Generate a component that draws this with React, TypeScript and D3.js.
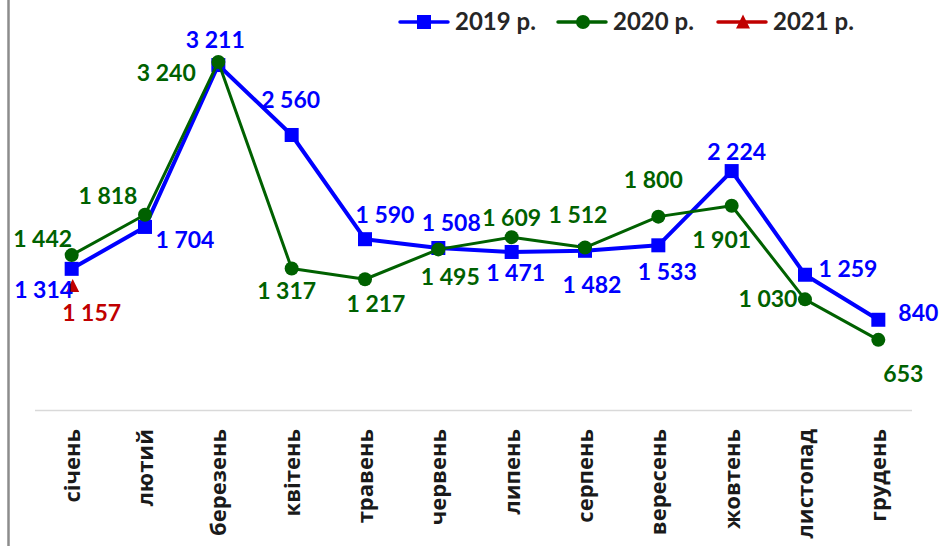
import React from "react";
import * as d3 from "d3";

const months = ["січень", "лютий", "березень", "квітень", "травень", "червень", "липень", "серпень", "вересень", "жовтень", "листопад", "грудень"];
const values2019 = [1314, 1704, 3211, 2560, 1590, 1508, 1471, 1482, 1533, 2224, 1259, 840];
const values2020 = [1442, 1818, 3240, 1317, 1217, 1495, 1609, 1512, 1800, 1901, 1030, 653];
const values2021 = [1157];
const seriesNames = ["2019 р.", "2020 р.", "2021 р."];

// label offsets (presentation only)
const off2019: [number, number][] = [[-28, 21], [40, 13], [-3, -25], [-1, -35], [20, -24], [13, -25], [4, 21], [7, 34], [9, 27], [5, -19], [43, -6], [40, -7]];
const off2020: [number, number][] = [[-29, -16], [-37, -19], [-52, 11], [-5, 22], [11, 25], [12, 28], [0, -19], [-7, -33], [-5, -37], [-10, 34], [-37, 0], [25, 34]];
const off2021: [number, number][] = [[20, 27]];

const W = 943, H = 546;
const BLUE = "#0000FF", GREEN = "#006100", RED = "#C00000";
const fmt = (v: number) => d3.format(",")(v).replace(/,/g, " ");

export default function App() {
  const x = d3.scaleBand<string>().domain(months).range([35, 915]).padding(0);
  const y = d3.scaleLinear().domain([0, 3500]).range([410, 34]);
  const cx = (i: number) => (x(months[i]) as number) + x.bandwidth() / 2;
  const line = d3.line<number>().x((_, i) => cx(i)).y((d) => y(d));
  const labelFont = "Lato, 'Open Sans', sans-serif";

  const labels = (vals: number[], offs: [number, number][], color: string) =>
    vals.map((v, i) => (
      <text key={i} x={cx(i) + offs[i][0]} y={y(v) + offs[i][1]} textAnchor="middle" dy="0.35em"
        fill={color} fontFamily={labelFont} fontWeight={700} fontSize={23}>{fmt(v)}</text>
    ));

  const tri = (px: number, py: number, s: number) => `M${px},${py - s * 0.6}L${px + s / 2},${py + s * 0.4}L${px - s / 2},${py + s * 0.4}Z`;

  const legend = [
    { lx: 400, color: BLUE, name: seriesNames[0], kind: "sq" },
    { lx: 558, color: GREEN, name: seriesNames[1], kind: "ci" },
    { lx: 718, color: RED, name: seriesNames[2], kind: "tr" },
  ];

  return (
    <div style={{ position: "fixed", left: 0, top: 0, width: W, height: H, background: "#fff" }}>
      <svg width={W} height={H} style={{ display: "block" }}>
        <rect x={0} y={0} width={W} height={H} fill="#fff" />
        <line x1={8.5} x2={8.5} y1={0} y2={H} stroke="#8c8c8c" strokeWidth={2.5} />
        <line x1={35} x2={912} y1={410.5} y2={410.5} stroke="#d9d9d9" strokeWidth={1.5} />
        {months.map((m, i) => (
          <text key={m} transform={`translate(${cx(i)},429) rotate(-90)`} textAnchor="end" dy="0.36em"
            fontFamily="'Open Sans', sans-serif" fontWeight={700} fontSize={22} fill="#1a1a1a">{m}</text>
        ))}
        <path d={line(values2019) || ""} fill="none" stroke={BLUE} strokeWidth={4} strokeLinejoin="round" />
        {values2019.map((v, i) => (
          <rect key={i} x={cx(i) - 7} y={y(v) - 7} width={14} height={14} fill={BLUE} />
        ))}
        <path d={line(values2020) || ""} fill="none" stroke={GREEN} strokeWidth={3} strokeLinejoin="round" />
        {values2020.map((v, i) => (
          <circle key={i} cx={cx(i)} cy={y(v)} r={7} fill={GREEN} />
        ))}
        {values2021.map((v, i) => (
          <path key={i} d={tri(cx(i) + 1, y(v) + 1, 13)} fill={RED} />
        ))}
        {labels(values2019, off2019, BLUE)}
        {labels(values2020, off2020, GREEN)}
        {labels(values2021, off2021, RED)}
        {legend.map((l) => (
          <g key={l.name}>
            <line x1={l.lx} x2={l.lx + 48} y1={22} y2={22} stroke={l.color} strokeWidth={3.5} strokeLinecap="round" />
            {l.kind === "sq" && <rect x={l.lx + 17} y={15} width={14} height={14} fill={l.color} />}
            {l.kind === "ci" && <circle cx={l.lx + 25} cy={22} r={7} fill={l.color} />}
            {l.kind === "tr" && <path d={tri(l.lx + 25, 23, 14)} fill={l.color} />}
            <text x={l.lx + 55} y={22} dy="0.35em" fontFamily={labelFont} fontWeight={700} fontSize={24} fill="#262626">{l.name}</text>
          </g>
        ))}
      </svg>
    </div>
  );
}
